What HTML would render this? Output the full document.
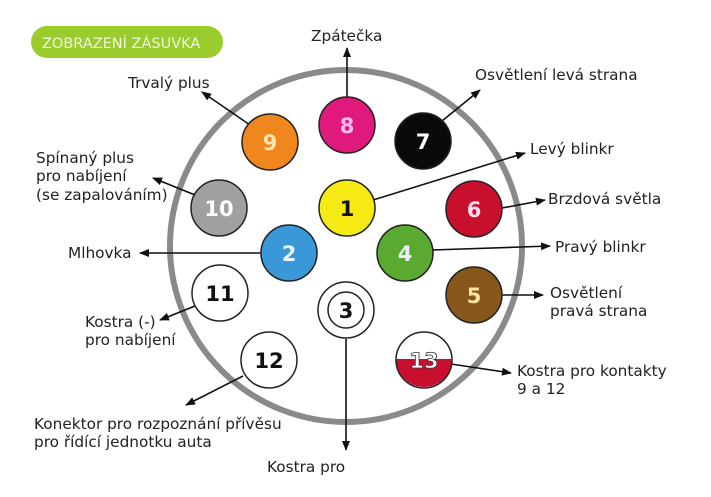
<!DOCTYPE html>
<html><head><meta charset="utf-8"><style>
html,body{margin:0;padding:0;background:#fff;width:711px;height:497px;overflow:hidden}
svg text{font-family:"DejaVu Sans","Liberation Sans",sans-serif}
.l{font-size:15.3px;fill:#222}
.n{font-size:21px;font-weight:bold;text-anchor:middle}
</style></head><body>
<svg width="711" height="497" viewBox="0 0 711 497">
<defs><marker id="a" markerWidth="10" markerHeight="8" refX="9" refY="4" orient="auto" markerUnits="userSpaceOnUse"><path d="M0,0 L10,4 L0,8 z" fill="#111"/></marker></defs>
<rect x="31" y="26" width="192" height="32" rx="16" fill="#9acc2e"/>
<text x="42" y="48" font-size="14.5" fill="#eef6d8">ZOBRAZENÍ ZÁSUVKA</text>
<circle cx="346" cy="246" r="176" fill="none" stroke="#8a8a8a" stroke-width="6"/>
<g stroke="#111" stroke-width="1.6" fill="none" marker-end="url(#a)">
<line x1="347" y1="97" x2="347" y2="48"/>
<line x1="250" y1="125" x2="202" y2="92"/>
<line x1="442" y1="121" x2="480" y2="90"/>
<line x1="195" y1="195" x2="153" y2="178"/>
<line x1="373" y1="200" x2="525" y2="153"/>
<line x1="502" y1="208" x2="545" y2="200"/>
<line x1="262" y1="253" x2="140" y2="253"/>
<line x1="432" y1="250" x2="550" y2="246"/>
<line x1="195" y1="306" x2="160" y2="320"/>
<line x1="502" y1="295" x2="543" y2="295"/>
<line x1="346" y1="339" x2="346" y2="450"/>
<line x1="243" y1="376" x2="186" y2="405"/>
<line x1="451" y1="364" x2="511" y2="373"/>
</g>
<g stroke="#222" stroke-width="1.5">
<circle cx="347" cy="125" r="28" fill="#e0197d"/>
<circle cx="270" cy="142" r="28" fill="#f0871e"/>
<circle cx="423" cy="141" r="28" fill="#0a0a0a"/>
<circle cx="219" cy="208" r="28" fill="#a0a0a0"/>
<circle cx="347" cy="208" r="28" fill="#f5ea14"/>
<circle cx="474" cy="209" r="28" fill="#c8102e"/>
<circle cx="289" cy="253" r="28" fill="#3a98d8"/>
<circle cx="405" cy="253" r="28" fill="#5aaa32"/>
<circle cx="220" cy="293" r="28" fill="#fff"/>
<circle cx="346" cy="310" r="28" fill="#fff"/>
<circle cx="346" cy="310" r="18" fill="#fff"/>
<circle cx="474" cy="295" r="28" fill="#87561a"/>
<circle cx="269" cy="360" r="28" fill="#fff"/>
</g>
<path d="M396,359 A28,28 0 0 0 452,359 Z" fill="#c8102e"/>
<circle cx="424" cy="360" r="28" fill="none" stroke="#222" stroke-width="1.5"/>
<text class="n" x="347" y="133" fill="#fbe">8</text>
<text class="n" x="270" y="150" fill="#fde4b0">9</text>
<text class="n" x="423" y="149" fill="#fff">7</text>
<text class="n" x="219" y="216" fill="#fff">10</text>
<text class="n" x="347" y="216" fill="#111">1</text>
<text class="n" x="474" y="217" fill="#fde">6</text>
<text class="n" x="289" y="261" fill="#e8f4ff">2</text>
<text class="n" x="405" y="261" fill="#eef">4</text>
<text class="n" x="220" y="301" fill="#111">11</text>
<text class="n" x="346" y="318" fill="#111">3</text>
<text class="n" x="474" y="303" fill="#fbe6a0">5</text>
<text class="n" x="269" y="368" fill="#111">12</text>
<text class="n" x="424" y="368" fill="#fff" stroke="#333" stroke-width="0.8">13</text>
<text class="l" x="311" y="41">Zpátečka</text>
<text class="l" x="128" y="88">Trvalý plus</text>
<text class="l" x="475" y="80">Osvětlení levá strana</text>
<text class="l" x="36" y="163">Spínaný plus</text>
<text class="l" x="36" y="181">pro nabíjení</text>
<text class="l" x="36" y="200">(se zapalováním)</text>
<text class="l" x="530" y="154">Levý blinkr</text>
<text class="l" x="548" y="204">Brzdová světla</text>
<text class="l" x="68" y="258">Mlhovka</text>
<text class="l" x="555" y="252">Pravý blinkr</text>
<text class="l" x="85" y="327">Kostra (-)</text>
<text class="l" x="85" y="345">pro nabíjení</text>
<text class="l" x="550" y="298">Osvětlení</text>
<text class="l" x="550" y="316">pravá strana</text>
<text class="l" x="517" y="376">Kostra pro kontakty</text>
<text class="l" x="517" y="394">9 a 12</text>
<text class="l" x="34" y="429">Konektor pro rozpoznání přívěsu</text>
<text class="l" x="34" y="447">pro řídící jednotku auta</text>
<text class="l" x="267" y="472">Kostra pro</text>
</svg>
</body></html>
